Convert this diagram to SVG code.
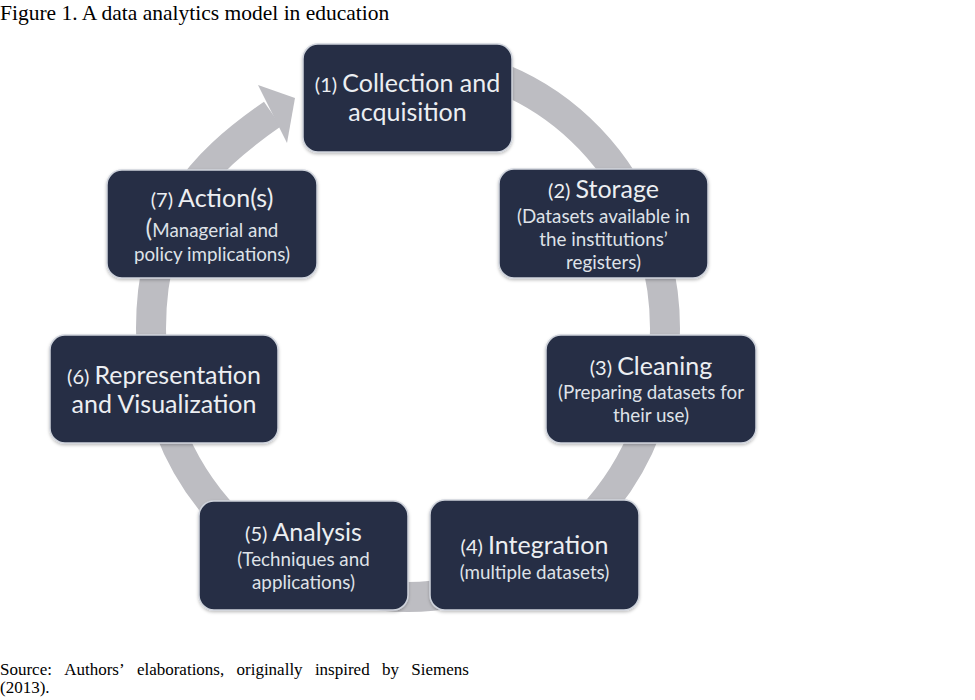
<svg xmlns="http://www.w3.org/2000/svg" width="975" height="700" viewBox="0 0 975 700">
<defs>
<filter id="sh" x="-10%" y="-10%" width="120%" height="130%">
<feDropShadow dx="0" dy="1.5" stdDeviation="1.5" flood-color="#000" flood-opacity="0.25"/>
</filter>
</defs>
<style>
.box{fill:#262f44;stroke:#cfd3dc;stroke-width:1.5;filter:url(#sh)}
.t{font-family:Lato,"Open Sans","Liberation Sans",sans-serif;fill:#eceef2;text-anchor:middle;font-size:25px}
.n{font-size:20px}
.s{font-family:Lato,"Open Sans","Liberation Sans",sans-serif;fill:#dfe2e8;text-anchor:middle;font-size:18.8px}
.cap{font-family:"Liberation Serif","Times New Roman",serif;fill:#000}
.ring{fill:none;stroke:#bdbdc2;stroke-width:30}
</style>
<rect width="975" height="700" fill="#fff"/>
<text class="cap" x="0" y="20" font-size="21.5">Figure 1. A data analytics model in education</text>
<g id="connectors">
<path class="ring" d="M 408 60 A 257 268.5 0 1 1 151 328.5 C 151 218.5 198.5 165.2 272.5 114"/>
<polygon points="258,85 295,98 287,143" fill="#bdbdc2"/>
</g>
<g id="node1">
<rect class="box" x="303" y="44" width="209" height="108" rx="15"/>
<text class="t" x="407.5" y="92"><tspan class="n">(1) </tspan>Collection and</text>
<text class="t" x="407.5" y="121">acquisition</text>
</g>
<g id="node2">
<rect class="box" x="499" y="169" width="209" height="109" rx="15"/>
<text class="t" x="603.5" y="198"><tspan class="n">(2) </tspan>Storage</text>
<text class="s" x="603.5" y="223">(Datasets available in</text>
<text class="s" x="603.5" y="246">the institutions’</text>
<text class="s" x="603.5" y="269">registers)</text>
</g>
<g id="node3">
<rect class="box" x="546" y="335" width="210" height="108" rx="15"/>
<text class="t" x="651" y="375"><tspan class="n">(3) </tspan>Cleaning</text>
<text class="s" x="651" y="399">(Preparing datasets for</text>
<text class="s" x="651" y="422">their use)</text>
</g>
<g id="node4">
<rect class="box" x="430" y="500" width="209" height="110" rx="15"/>
<text class="t" x="534.5" y="554"><tspan class="n">(4) </tspan>Integration</text>
<text class="s" x="534.5" y="579">(multiple datasets)</text>
</g>
<g id="node5">
<rect class="box" x="199" y="501" width="209" height="109" rx="15"/>
<text class="t" x="303.5" y="541"><tspan class="n">(5) </tspan>Analysis</text>
<text class="s" x="303.5" y="566">(Techniques and</text>
<text class="s" x="303.5" y="589">applications)</text>
</g>
<g id="node6">
<rect class="box" x="50" y="335" width="228" height="108" rx="15"/>
<text class="t" x="164" y="384"><tspan class="n">(6) </tspan>Representation</text>
<text class="t" x="164" y="413">and Visualization</text>
</g>
<g id="node7">
<rect class="box" x="107" y="170" width="210" height="108" rx="15"/>
<text class="t" x="212" y="207"><tspan class="n">(7) </tspan>Action(s)</text>
<text class="s" x="212" y="237"><tspan font-size="25px">(</tspan>Managerial and</text>
<text class="s" x="212" y="261">policy implications)</text>
</g>
<text class="cap" y="675" font-size="17"><tspan x="0">Source:</tspan><tspan x="64.2">Authors’</tspan><tspan x="136.9">elaborations,</tspan><tspan x="236.5">originally</tspan><tspan x="314.9">inspired</tspan><tspan x="382">by</tspan><tspan x="411.3">Siemens</tspan></text>
<text class="cap" x="0" y="693" font-size="17">(2013).</text>
</svg>
